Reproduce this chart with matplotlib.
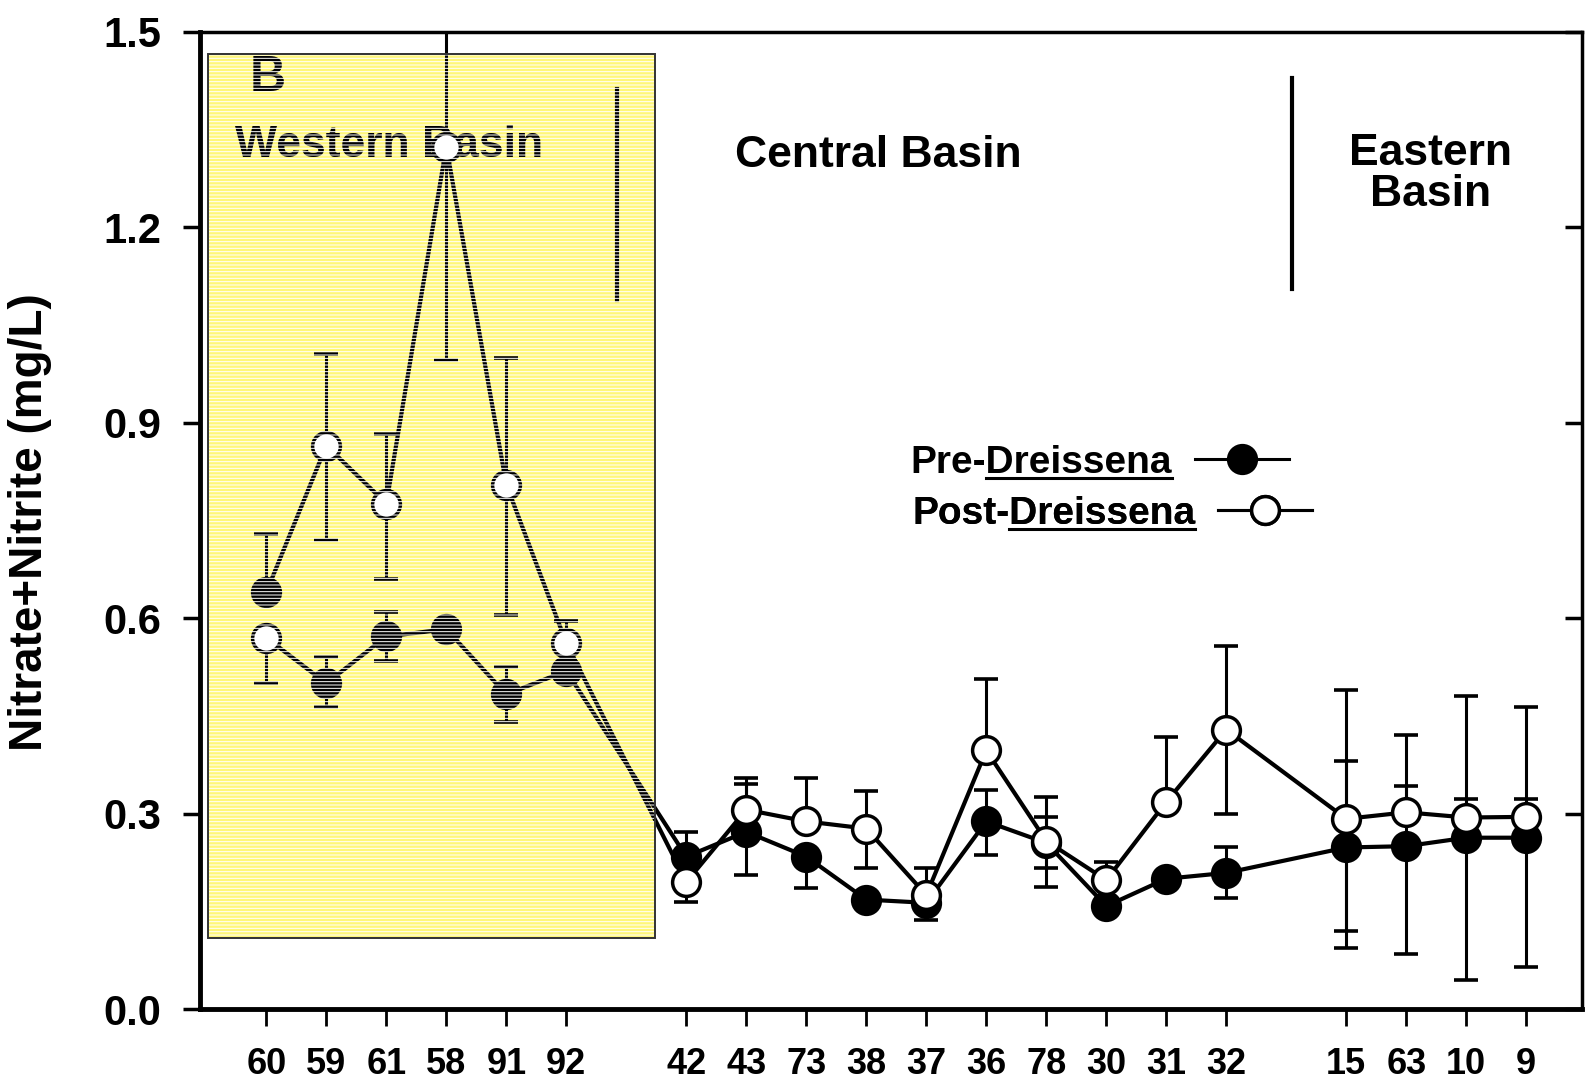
import numpy as np
import matplotlib
matplotlib.use('Agg')
import matplotlib.pyplot as plt
from matplotlib.patches import Rectangle
from matplotlib.lines import Line2D
from matplotlib.transforms import IdentityTransform

plt.rcParams['font.family'] = ['Liberation Sans', 'DejaVu Sans']
plt.rcParams['font.weight'] = 'bold'
plt.rcParams['hatch.linewidth'] = 0.7

# stations along the lake, west to east (gaps between basins)
stations = ['60', '59', '61', '58', '91', '92',
            '42', '43', '73', '38', '37', '36', '78', '30', '31', '32',
            '15', '63', '10', '9']
xpos = [1, 2, 3, 4, 5, 6,
        8, 9, 10, 11, 12, 13, 14, 15, 16, 17,
        19, 20, 21, 22]

# Pre-Dreissena means and error bar ends (nan = hidden behind marker)
pre = [0.64, 0.50, 0.572, 0.583, 0.483, 0.519,
       0.234, 0.272, 0.234, 0.168, 0.163, 0.288, 0.255, 0.158, 0.200, 0.209,
       0.248, 0.250, 0.263, 0.263]
pre_lo = [np.nan, 0.463, 0.534, np.nan, 0.44, np.nan,
          np.nan, 0.206, 0.186, np.nan, np.nan, 0.237, 0.217, np.nan, np.nan, 0.171,
          0.12, 0.085, 0.045, 0.065]
pre_hi = [0.73, 0.54, 0.61, np.nan, 0.525, np.nan,
          0.272, 0.345, np.nan, np.nan, np.nan, 0.337, 0.295, 0.21, np.nan, 0.249,
          0.38, 0.342, 0.323, 0.323]

# Post-Dreissena means and error bar ends
post = [0.57, 0.865, 0.776, 1.324, 0.805, 0.562,
        0.195, 0.306, 0.288, 0.277, 0.175, 0.397, 0.258, 0.198, 0.318, 0.429,
        0.292, 0.302, 0.294, 0.295]
post_lo = [0.50, 0.72, 0.66, 0.997, 0.605, np.nan,
           0.165, np.nan, np.nan, 0.217, 0.137, np.nan, 0.188, np.nan, np.nan, 0.30,
           0.094, np.nan, np.nan, np.nan]
post_hi = [np.nan, 1.005, 0.883, 1.62, 1.0, 0.595,
           np.nan, 0.355, 0.355, 0.335, 0.217, 0.506, 0.326, 0.226, 0.418, 0.558,
           0.49, 0.42, 0.48, 0.463]

yticks = [0.0, 0.3, 0.6, 0.9, 1.2, 1.5]

x = np.array(xpos, dtype=float)
pre = np.array(pre)
post = np.array(post)


def yerr(v, lo, hi):
    # missing ends become zero-length, their caps sit under the marker
    return [np.nan_to_num(v - np.array(lo)), np.nan_to_num(np.array(hi) - v)]


fig = plt.figure(figsize=(15.9, 10.88), dpi=100)
ax = fig.add_axes([0.126, 0.0726, 0.869, 0.898])

ebkw = dict(fmt='none', ecolor='k', elinewidth=2.2, capsize=8.5, capthick=2.6, zorder=2)
ax.errorbar(x, pre, yerr=yerr(pre, pre_lo, pre_hi), **ebkw)
ax.errorbar(x, post, yerr=yerr(post, post_lo, post_hi), **ebkw)

# in the original the two lines swap at station 60
pre_line = pre.copy()
post_line = post.copy()
pre_line[0], post_line[0] = post[0], pre[0]
ax.plot(x, pre_line, color='k', lw=3, zorder=3)
ax.plot(x, post_line, color='k', lw=3, zorder=3)
ax.plot(x, pre, 'o', ms=20, mfc='k', mec='k', mew=2.5, zorder=4)
ax.plot(x, post, 'o', ms=20, mfc='white', mec='k', mew=2.5, zorder=5)

ax.set_xlim(-0.1, 22.93)
ax.set_ylim(0, 1.5)
ax.set_xticks(xpos)
ax.set_xticklabels(stations)
ax.set_yticks(yticks)
ax.set_yticklabels(['%.1f' % v for v in yticks])
ax.tick_params(axis='x', direction='out', length=12, width=2, pad=15, labelsize=26)
ax.tick_params(axis='y', direction='out', length=12, width=2.5, pad=16, labelsize=30,
               right=True)
for t in ax.yaxis.get_ticklines()[1::2]:
    t.set_marker(0)  # right ticks point inward
ax.spines['left'].set_linewidth(3.5)
ax.spines['bottom'].set_linewidth(3.5)
ax.spines['top'].set_linewidth(2.5)
ax.spines['right'].set_linewidth(2.5)

ax.set_ylabel('Nitrate+Nitrite (mg/L)', fontsize=33, fontweight='bold')
ax.yaxis.set_label_coords(-0.107, 0.498)

# basin dividers and labels
ax.plot([6.85, 6.85], [1.089, 1.412], color='k', lw=3, zorder=3)
ax.plot([18.1, 18.1], [1.105, 1.43], color='k', lw=3, zorder=3)
ax.text(1.03, 1.43, 'B', fontsize=36, ha='center', va='center')
ax.text(3.05, 1.325, 'Western Basin', fontsize=32, ha='center', va='center')
ax.text(11.2, 1.311, 'Central Basin', fontsize=32, ha='center', va='center')
ax.text(20.4, 1.282, 'Eastern\nBasin', fontsize=32, ha='center', va='center',
        linespacing=1.02)

# legend: label first, then the key
h_pre = Line2D([], [], color='k', lw=2.2, marker='o', ms=20, mfc='k', mec='k', mew=2.5)
h_post = Line2D([], [], color='k', lw=2.2, marker='o', ms=20, mfc='white', mec='k', mew=2.5)
legkw = dict(markerfirst=False, frameon=False, loc='center left', numpoints=1,
             borderpad=0, borderaxespad=0, handlelength=2.4, handletextpad=0.6,
             prop={'weight': 'bold', 'size': 28})
leg1 = ax.legend([h_pre], ['Pre-Dreissena'], bbox_to_anchor=(0.514, 0.559), **legkw)
ax.add_artist(leg1)
leg2 = ax.legend([h_post], ['Post-Dreissena'], bbox_to_anchor=(0.515, 0.507), **legkw)
ax.add_artist(leg2)

# yellow highlight box over the western basin, with scan-like white stripes
box = dict(xy=(0.033, 0.109), width=7.47 - 0.033, height=1.466 - 0.109)
ax.add_patch(Rectangle(facecolor='#fff77a', edgecolor='none', zorder=0.5, **box))
ax.add_patch(Rectangle(facecolor='none', edgecolor='white', hatch='-----', lw=0,
                       zorder=20, **box))
ax.add_patch(Rectangle(facecolor='none', edgecolor='#333333', lw=1.4, zorder=21, **box))

# underline the genus name in the legend labels
fig.canvas.draw()
renderer = fig.canvas.get_renderer()
for leg, prefix in [(leg1, 'Pre-'), (leg2, 'Post-')]:
    txt = leg.get_texts()[0]
    prop = txt.get_fontproperties()
    bb = txt.get_window_extent(renderer)
    w, _, _ = renderer.get_text_width_height_descent(prefix, prop, ismath=False)
    _, _, d = renderer.get_text_width_height_descent('lp', prop, ismath=False)
    yb = bb.y0 + d - 5
    fig.add_artist(Line2D([bb.x0 + w, bb.x1], [yb, yb], color='k', lw=2.2,
                          transform=IdentityTransform()))

fig.savefig('out.png', dpi=100)
